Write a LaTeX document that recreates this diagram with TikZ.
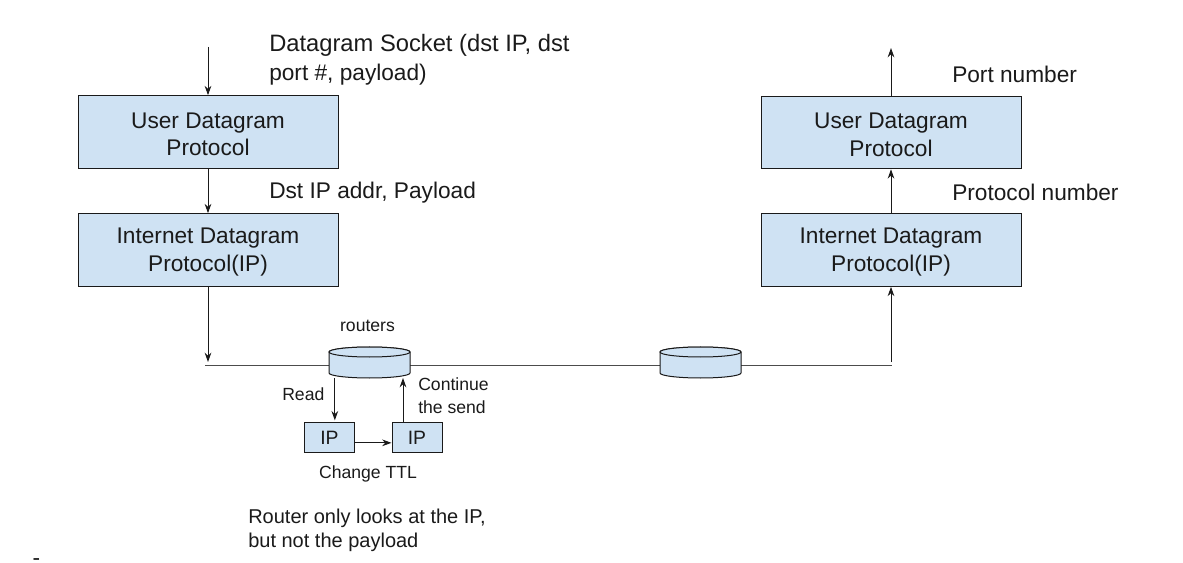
\documentclass[tikz,border=0pt]{standalone}
\usepackage{fontspec}
\setmainfont{Liberation Sans}
\usetikzlibrary{arrows.meta}
\definecolor{boxblue}{HTML}{CFE2F3}
\definecolor{ink}{HTML}{1A1A1A}
\newcommand{\lowerstrut}{\rule{0pt}{15pt}}
\tikzset{
  layerbox/.style={draw=ink,line width=0.75pt,fill=boxblue,minimum width=195pt,minimum height=54.5pt,inner sep=0pt,align=center,font=\fontsize{17}{20.5}\selectfont,text=ink},
  ipbox/.style={draw=ink,line width=0.75pt,fill=boxblue,minimum width=37.5pt,minimum height=23pt,inner sep=0pt,font=\fontsize{14.5}{18}\selectfont,text=ink},
  router/.style={minimum width=60.75pt,minimum height=23.25pt,inner sep=0pt,outer sep=0pt},
  routerline/.style={draw=ink,line width=0.75pt,fill=boxblue},
  biglabel/.style={anchor=west,align=left,inner sep=0pt,font=\fontsize{17}{21.5}\selectfont,text=ink},
  smalllabel/.style={align=left,inner sep=0pt,font=\fontsize{13.2}{17.25}\selectfont,text=ink},
  arr/.style={draw=ink,line width=0.75pt,-{Stealth[length=7pt,width=5pt]}},
  wire/.style={draw=black!70,line width=1.1pt}
}
\newcommand{\routerdraw}[1]{%
  \path[routerline] ([yshift=-3.75pt]#1.north west) -- ([yshift=3.75pt]#1.south west)
    arc[start angle=180,end angle=360,x radius=30.375pt,y radius=3.75pt]
    -- ([yshift=-3.75pt]#1.north east)
    arc[start angle=0,end angle=180,x radius=30.375pt,y radius=3.75pt] -- cycle;
  \path[routerline] ([yshift=-3.75pt]#1.north) ellipse [x radius=30.375pt,y radius=3.75pt];
}
\begin{document}
\begin{tikzpicture}[x=0.75pt,y=-0.75pt]
\useasboundingbox (0,0) rectangle (1183,563);
\node[layerbox] (udpL) at (208,132) {\lowerstrut User Datagram\\Protocol};
\node[layerbox] (ipL) at (208,250) {\lowerstrut Internet Datagram\\Protocol(IP)};
\node[layerbox] (udpR) at (891,132.5) {\lowerstrut User Datagram\\Protocol};
\node[layerbox] (ipR) at (891,250) {\lowerstrut Internet Datagram\\Protocol(IP)};
\node[router] (r1) at (369.5,362.5) {};
\node[router] (r2) at (700.5,362.5) {};
\node[ipbox] (ipa) at (329.5,437.5) {IP};
\node[ipbox] (ipb) at (417,437.5) {IP};
\coordinate (inTop) at (208,47);
\coordinate (outTop) at (891,48);
\coordinate (wireL) at (205,365.5);
\coordinate (wireR) at (892,365.5);
\coordinate (dropL) at (208,362);
\coordinate (riseR) at (891,362);
\draw[wire] (wireL) -- (r1.west |- wireL);
\draw[wire] (r1.east |- wireL) -- (r2.west |- wireL);
\draw[wire] (r2.east |- wireL) -- (wireR);
\routerdraw{r1}
\routerdraw{r2}
\draw[arr] (inTop) -- (udpL.north);
\draw[arr] (udpL.south) -- (ipL.north);
\draw[arr] (ipL.south) -- (dropL);
\draw[arr] (udpR.north) -- (outTop);
\draw[arr] (ipR.north) -- (udpR.south);
\draw[arr] (riseR) -- (ipR.south);
\draw[arr] ([xshift=4pt]ipa.north |- r1.south) -- ([xshift=4pt,yshift=1pt]ipa.north);
\draw[arr] ([xshift=-10.5pt]ipb.north) -- ([xshift=-10.5pt]ipb.north |- r1.south);
\draw[arr] ([yshift=-4pt]ipa.east) -- ([yshift=-4pt]ipb.west);
\node[biglabel] (lblSocket) at (269,59.5) {{\fontsize{17.8}{21.5}\selectfont Datagram Socket (dst IP, dst}\\port \#, payload)};
\node[biglabel] (lblDst) at (269,192.5) {Dst IP addr, Payload};
\node[biglabel] (lblPort) at (952,74) {Port number};
\node[biglabel] (lblProto) at (952,192) {Protocol number};
\node[smalllabel] (lblRouters) at (367.5,326) {routers};
\node[smalllabel,anchor=west] (lblRead) at (282,394) {Read};
\node[smalllabel,anchor=west] (lblCont) at (418,396) {Continue\\the send};
\node[smalllabel] (lblTTL) at (368,474) {Change TTL};
\node[smalllabel,anchor=west,font=\fontsize{15}{18}\selectfont] (lblOnly) at (248,530) {Router only looks at the IP,\\but not the payload};
\node[inner sep=0pt,font=\fontsize{17}{18}\selectfont,text=ink] (dash) at (36.5,562) {-};
\end{tikzpicture}
\end{document}
